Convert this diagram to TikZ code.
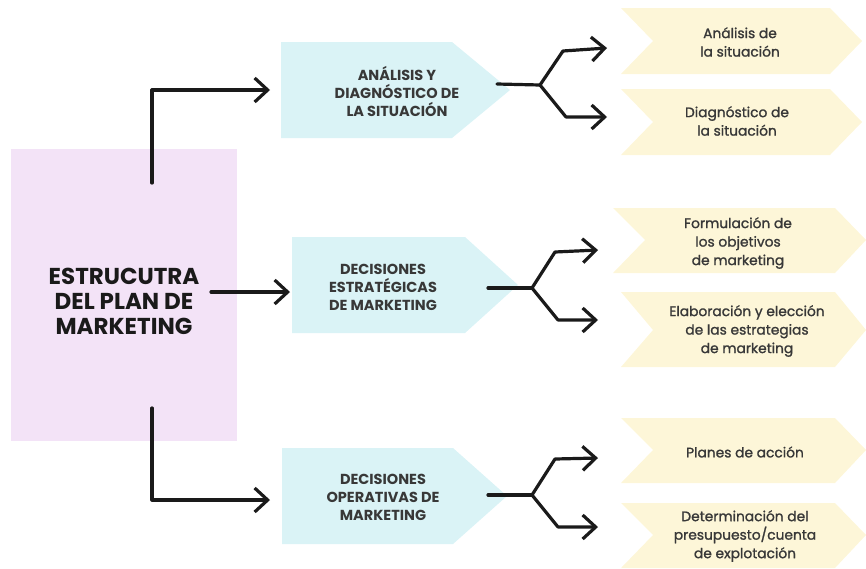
\documentclass[tikz,border=0pt]{standalone}
\usepackage{fontspec}
\setmainfont{Poppins}
\newfontfamily\medfont[FakeBold=1.3]{Poppins}
\usetikzlibrary{arrows.meta,positioning}
\definecolor{p1}{HTML}{F3E3F7}
\definecolor{c1}{HTML}{DAF3F6}
\definecolor{y1}{HTML}{FDF6D8}
\definecolor{t1}{HTML}{383838}
\definecolor{k}{HTML}{1A1A1A}
\tikzset{
    arrow/.style={-{Straight Barb[length=13pt,width=24pt]},line width=3.2pt,k,line cap=round,line join=round},
    fork/.style={line width=3.2pt,k,line cap=round,line join=round},
    title/.style={font=\bfseries\fontsize{23}{25}\selectfont,align=center,k},
    bluetext/.style={font=\bfseries\fontsize{14.5}{18}\selectfont,align=center,t1},
    yellowtext/.style={font=\medfont\fontsize{13.8}{18.5}\selectfont,align=center,t1}
}

\begin{document}
\begin{tikzpicture}[x=1pt, y=-1pt]
			\useasboundingbox (0,0) rectangle (866,568);
			% main box
			\fill[p1] (11,149) rectangle (237,441);
			\node[title] (plan) at (124,301) {ESTRUCUTRA\\DEL PLAN DE\\MARKETING};
			% blue tags
			\fill[c1] (281,42) -- (452,42) -- (510,90) -- (452,138) -- (281,138) -- cycle;
			\fill[c1] (292,237) -- (465,237) -- (518,285) -- (465,333) -- (292,333) -- cycle;
			\fill[c1] (282,448) -- (453,448) -- (507,496) -- (453,544) -- (282,544) -- cycle;
			\node[bluetext] (ana) at (397,91) {ANÁLISIS Y\\DIAGNÓSTICO DE\\LA SITUACIÓN};
			\node[bluetext] (est) at (383,287) {DECISIONES\\ESTRATÉGICAS\\DE MARKETING};
			\node[bluetext] (ope) at (383,497) {DECISIONES\\OPERATIVAS DE\\MARKETING};
			% yellow tags
			\fill[y1] (621,8) -- (830,8) -- (862,41) -- (830,74) -- (621,74) -- (653,41) -- cycle;
			\fill[y1] (621,89) -- (830,89) -- (862,122) -- (830,155) -- (621,155) -- (653,122) -- cycle;
			\fill[y1] (613,208) -- (835,208) -- (866,240) -- (835,273) -- (613,273) -- (645,240) -- cycle;
			\fill[y1] (621,292) -- (835,292) -- (866,330) -- (835,367) -- (621,367) -- (653,330) -- cycle;
			\fill[y1] (621,418) -- (835,418) -- (866,450) -- (835,483) -- (621,483) -- (653,450) -- cycle;
			\fill[y1] (621,503) -- (835,503) -- (866,535) -- (835,568) -- (621,568) -- (653,535) -- cycle;
			\node[yellowtext] (sit) at (740,42) {Análisis de\\la situación};
			\node[yellowtext] (diag) at (737,121) {Diagnóstico de\\la situación};
			\node[yellowtext] (obj) at (738,243) {Formulación de\\los objetivos\\de marketing};
			\node[yellowtext] (estr) at (747,331) {Elaboración y elección\\de las estrategias\\de marketing};
			\node[yellowtext] (acc) at (745,452) {Planes de acción};
			\node[yellowtext] (pres) at (745,536) {Determinación del\\presupuesto/cuenta\\de explotación};
			% connector points
			\coordinate (plan-n) at (152,183);
			\coordinate (plan-e) at (211,292);
			\coordinate (plan-s) at (152,408);
			\coordinate (ana-in) at (270,90);
			\coordinate (est-in) at (290,292);
			\coordinate (ope-in) at (270,500);
			\coordinate (ana-out) at (497,84);
			\coordinate (ana-fork) at (540,85);
			\coordinate (est-out) at (488,288);
			\coordinate (est-fork) at (532,288);
			\coordinate (ope-out) at (488,495);
			\coordinate (ope-fork) at (532,495);
			\coordinate (sit-in) at (607,48);
			\coordinate (diag-in) at (607,117);
			\coordinate (obj-in) at (598,250);
			\coordinate (estr-in) at (598,320);
			\coordinate (acc-in) at (598,458);
			\coordinate (pres-in) at (598,527);
			% connectors
			\draw[arrow] (plan-n) |- (ana-in);
			\draw[arrow] (plan-e) -- (est-in);
			\draw[arrow] (plan-s) |- (ope-in);
			\draw[fork] (ana-out) -- (ana-fork);
			\draw[arrow] (ana-fork) -- (563,51) -- (sit-in);
			\draw[arrow] (ana-fork) -- (566,117) -- (diag-in);
			\draw[fork] (est-out) -- (est-fork);
			\draw[arrow] (est-fork) -- (555,252) -- (obj-in);
			\draw[arrow] (est-fork) -- (558,320) -- (estr-in);
			\draw[fork] (ope-out) -- (ope-fork);
			\draw[arrow] (ope-fork) -- (555,459) -- (acc-in);
			\draw[arrow] (ope-fork) -- (558,527) -- (pres-in);
		\end{tikzpicture}
\end{document}
